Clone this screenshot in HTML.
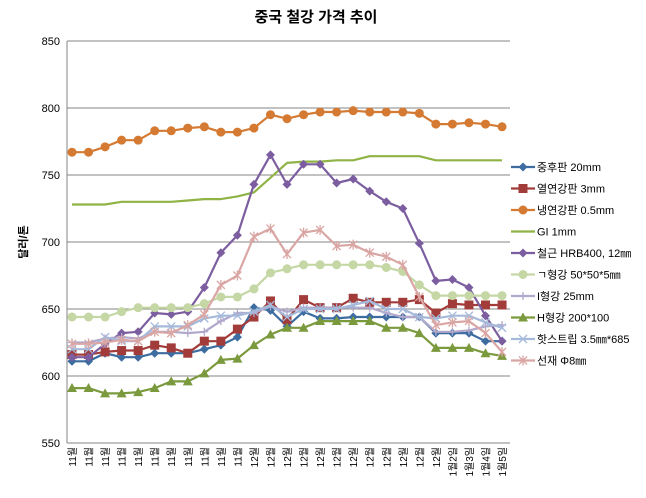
<!DOCTYPE html>
<html><head><meta charset="utf-8"><style>
html,body{margin:0;padding:0;background:#fff;}
svg{display:block;font-family:"Liberation Sans","Noto Sans CJK KR","NanumGothic",sans-serif;}
</style></head><body>
<svg id="c" width="646" height="498" viewBox="0 0 646 498" xmlns="http://www.w3.org/2000/svg">
<rect x="0" y="0" width="646" height="498" fill="#fff"/>
<text x="316" y="22" text-anchor="middle" font-size="15" font-weight="bold" fill="#000">중국 철강 가격 추이</text>
<text transform="translate(27,242) rotate(-90)" text-anchor="middle" font-size="11" font-weight="bold">달러/톤</text>
<g id="g"></g>
</svg>
<script>
var g=document.getElementById('g'),s='';
var L=67,R=510,T=41,B=443;
function Y(v){return B-(v-550)*1.34;}
function X(i){return 72+i*16.54;}
for(var v=550;v<=850;v+=50){var y=Y(v);s+='<line x1="'+L+'" x2="'+R+'" y1="'+y+'" y2="'+y+'" stroke="#868686" stroke-width="1"/>';
s+='<text x="'+(L-7)+'" y="'+(y+4)+'" text-anchor="end" font-size="11">'+v+'</text>';}
s+='<line x1="'+L+'" x2="'+L+'" y1="'+T+'" y2="'+B+'" stroke="#868686"/>';
for(var i=0;i<27;i++){var lab=i<11?'11월':(i<23?'12월':'1월'+(i-21)+'일');
s+='<text transform="translate('+(X(i)+4)+',447) rotate(-90)" text-anchor="end" font-size="10">'+lab+'</text>';}
var S=[
['중후판 20mm','#3c6ca0','d',[611,611,617,614,614,617,617,617,620,623,629,651,649,637,648,643,643,644,644,644,644,644,632,632,632,626,626]],
['열연강판 3mm','#a23c3a','s',[616,616,618,619,619,623,621,617,626,626,635,644,656,642,657,651,651,658,655,655,655,657,647,654,653,653,653]],
['냉연강판 0.5mm','#d47a32','o',[767,767,771,776,776,783,783,785,786,782,782,785,795,792,795,797,797,798,797,797,797,796,788,788,789,788,786]],
['GI 1mm','#8fb345','n',[728,728,728,730,730,730,730,731,732,732,734,737,748,759,760,760,761,761,764,764,764,764,761,761,761,761,761]],
['철근 HRB400, 12㎜','#7c5ea0','d',[614,614,624,632,633,647,646,648,666,692,705,743,765,743,758,758,744,747,738,730,725,699,671,672,666,645,626]],
['ㄱ형강 50*50*5㎜','#c4d7a4','o',[644,644,644,648,651,651,651,651,654,659,659,665,677,680,683,683,683,683,683,681,678,668,660,660,660,660,660]],
['I형강 25mm','#b1a8cc','p',[625,625,628,629,628,633,633,632,633,641,647,647,652,648,651,651,651,651,651,647,644,644,633,633,634,637,638]],
['H형강 200*100','#7b9a3e','t',[591,591,587,587,588,591,596,596,602,612,613,623,631,636,636,641,641,641,641,636,636,632,621,621,621,617,615]],
['핫스트립 3.5㎜*685','#a5b9da','x',[620,620,629,626,626,637,637,637,643,645,645,648,653,644,650,650,650,653,656,650,650,644,643,645,645,640,636]],
['선재 Φ8㎜','#daa6a4','a',[624,624,625,627,626,633,632,638,646,668,675,704,710,691,707,709,697,698,692,689,683,659,638,640,641,632,618]]];
function mk(t,c,x,y,sz){sz=sz||1;
if(t=='d')return '<polygon points="'+x+','+(y-4.5)+' '+(x+4.5)+','+y+' '+x+','+(y+4.5)+' '+(x-4.5)+','+y+'" fill="'+c+'"/>';
if(t=='s')return '<rect x="'+(x-4.5)+'" y="'+(y-4.5)+'" width="9" height="9" fill="'+c+'"/>';
if(t=='o')return '<circle cx="'+x+'" cy="'+y+'" r="4.5" fill="'+c+'"/>';
if(t=='t')return '<polygon points="'+x+','+(y-5)+' '+(x+5)+','+(y+4)+' '+(x-5)+','+(y+4)+'" fill="'+c+'"/>';
if(t=='p')return '<path d="M'+(x-4)+' '+y+'h8M'+x+' '+(y-4)+'v8" stroke="'+c+'" stroke-width="1.3"/>';
if(t=='x')return '<path d="M'+(x-4)+' '+(y-4)+'l8 8M'+(x+4)+' '+(y-4)+'l-8 8" stroke="'+c+'" stroke-width="1.3"/>';
if(t=='a')return '<path d="M'+(x-4)+' '+(y-4)+'l8 8M'+(x+4)+' '+(y-4)+'l-8 8M'+x+' '+(y-5)+'v10" stroke="'+c+'" stroke-width="1.3"/>';
return '';}
S.forEach(function(d,k){var p=d[3].map(function(v,i){return X(i).toFixed(1)+','+Y(v).toFixed(1);}).join(' ');
s+='<polyline points="'+p+'" fill="none" stroke="'+d[1]+'" stroke-width="2.2" stroke-linejoin="round"/>';
d[3].forEach(function(v,i){s+=mk(d[2],d[1],X(i),Y(v));});
var ly=167+k*21.5;
s+='<line x1="511" x2="535" y1="'+ly+'" y2="'+ly+'" stroke="'+d[1]+'" stroke-width="2.2"/>'+mk(d[2],d[1],523,ly);
s+='<text x="537" y="'+(ly+4)+'" font-size="11">'+d[0]+'</text>';});
g.innerHTML=s;
</script>
</body></html>
